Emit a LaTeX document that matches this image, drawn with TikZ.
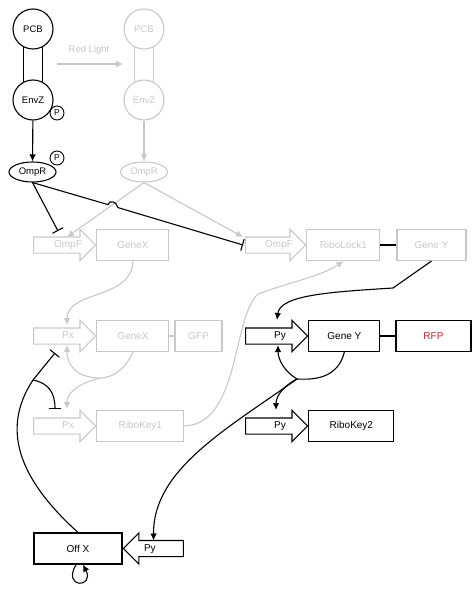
\documentclass[tikz,border=0pt]{standalone}
\usepackage{fontspec}
\setmainfont{Liberation Sans}
\usepackage{tikz}
\usetikzlibrary{arrows.meta,positioning,shapes.geometric,shapes.arrows}
\definecolor{faint}{RGB}{200,200,200}
\definecolor{rfpred}{RGB}{196,40,48}
\def\boxfont{\fontsize{10}{11}\selectfont}
\def\molfont{\fontsize{9.5}{10}\selectfont}
\newcommand{\fwd}[2][47pt]{\makebox[#1]{\hspace{15pt}#2}}
\newcommand{\bwd}[2][45pt]{\makebox[#1]{#2\hspace{15pt}}}

\begin{document}
\begin{tikzpicture}[x=1pt,y=-1pt,line width=1.1pt,
    mol/.style={draw,circle,minimum size=40pt,inner sep=0pt,font=\molfont},
    prot/.style={draw,ellipse,minimum width=47pt,minimum height=20pt,inner sep=0pt,font=\molfont},
    phos/.style={draw,circle,minimum size=14pt,inner sep=0pt,line width=0.9pt,font=\fontsize{8.5}{8}\selectfont},
    gene/.style={draw,rectangle,minimum height=31pt,inner sep=0pt,font=\boxfont},
    prom/.style={draw,single arrow,single arrow head extend=7.5pt,minimum height=62pt,
        text height=7pt,text depth=2pt,inner xsep=0pt,inner ysep=3pt,font=\boxfont},
    faded/.style={draw=faint,text=faint},
    act/.style={-{Latex[length=7pt,width=6.5pt]}},
    rep/.style={-{Bar[width=12pt]}}]
    \useasboundingbox (0,0) rectangle (472,599);

    \node[mol] (pcb) at (33,29) {PCB};
    \node[mol] (envz) at (33,100) {EnvZ};
    \node[phos] (pe) at (57,113) {P};
    \node[prot] (ompr) at (32.5,172) {OmpR};
    \node[phos] (po) at (57,158) {P};
    \draw (pcb.-118) -- (envz.118);
    \draw (pcb.-62) -- (envz.62);
    \draw[act] (envz) -- (ompr);

    \node[mol,faded] (gpcb) at (144,29) {PCB};
    \node[mol,faded] (genvz) at (144,100) {EnvZ};
    \node[prot,faded] (gompr) at (144,172) {OmpR};
    \draw[faint] (gpcb.-118) -- (genvz.118);
    \draw[faint] (gpcb.-62) -- (genvz.62);
    \draw[faint,act] (genvz) -- (gompr);

    \node[text=faint,font=\molfont] (light) at (89,50) {Red Light};
    \coordinate (l1) at (57,64);
    \coordinate (l2) at (123,64);
    \draw[faint,act] (l1) -- (l2);

    \node[prom,faded,anchor=tail] (pomp1) at (33,245) {\fwd{OmpF}};
    \node[gene,faded,minimum width=72pt,right=0pt of pomp1.tip] (gx1) {GeneX};
    \node[prom,faded,anchor=tail,minimum height=60pt] (pomp2) at (245,245) {\fwd[45pt]{OmpF}};
    \node[gene,faded,minimum width=73pt,right=0pt of pomp2.tip] (rlk) {RiboLock1};
    \node[gene,faded,minimum width=69pt,right=16pt of rlk] (gy1) {Gene Y};
    \draw (rlk) -- (gy1);

    \node[prom,faded,anchor=tail] (px1) at (33,336) {\fwd{Px}};
    \node[gene,faded,minimum width=72pt,right=0pt of px1.tip] (gx2) {GeneX};
    \node[gene,faded,minimum width=47pt,right=5pt of gx2] (gfp) {GFP};
    \draw[faint] (gx2) -- (gfp);
    \node[prom,anchor=tail] (py1) at (245,336) {\fwd{Py}};
    \node[gene,minimum width=71pt,right=0pt of py1.tip] (gy2) {Gene Y};
    \node[gene,minimum width=75pt,right=15pt of gy2,text=rfpred] (rfp) {RFP};
    \draw (gy2) -- (rfp);

    \node[prom,faded,anchor=tail] (px2) at (33,426) {\fwd{Px}};
    \node[gene,faded,minimum width=87pt,right=0pt of px2.tip] (rk1) {RiboKey1};
    \node[prom,anchor=tail] (py2) at (245,426) {\fwd{Py}};
    \node[gene,minimum width=85pt,right=0pt of py2.tip] (rk2) {RiboKey2};

    \node[gene,minimum width=88pt] (offx) at (78,548.5) {Off X};
    \node[prom,shape border rotate=180,minimum height=60pt,anchor=tip] (py3) at (offx.east) {\bwd{Py}};

    \draw[faint,act] (gompr.south) -- ([shift={(34,-8)}]pomp1.tail);
    \draw[faint,act] (gompr.south) -- ([shift={(-2,-8)}]pomp2.tail);
    \draw[rep] (ompr.south) -- ([shift={(25,-14)}]pomp1.tail);
    \draw[rep] (ompr.south) -- (108,204.6) .. controls (109,199.5) and (117,201.5) .. (118,207.6)
        -- ([xshift=-2pt]pomp2.tail);

    \draw[faint,act] (gx1.south) .. controls (132,300) and (67,290) .. ([shift={(34,-11)}]px1.tail);
    \coordinate (jx) at (100,378);
    \draw[faint] (gx2.south) .. controls (125,370) and (112,378) .. (jx);
    \draw[faint,act] (jx) .. controls (78,378) and (67,366) .. ([shift={(34,9)}]px1.tail);
    \draw[faint,act] (jx) .. controls (76,384) and (67,394) .. ([shift={(34,-17)}]px2.tail);
    \draw[faint,act] (rk1.east) .. controls (240,424) and (232,318) .. (258,294)
        .. controls (290,282) and (322,276) .. (rlk.south);

    \draw[act] (gy1.south) -- (393,288) .. controls (330,292) and (280,295) .. ([shift={(32,-16)}]py1.tail);
    \coordinate (jy) at (297,379);
    \draw (gy2.south) .. controls (338,378) and (315,380) .. (jy);
    \draw[act] (jy) .. controls (285,372) and (278,360) .. ([shift={(33,9)}]py1.tail);
    \draw[act] (jy) .. controls (285,385) and (276,395) .. ([shift={(31,-16)}]py2.tail);
    \draw[act] (jy) .. controls (225,430) and (153,470) .. ([shift={(31,-8)}]py3.tip);

    \coordinate (jo) at (33,380);
    \draw (offx.north) .. controls (20,480) and (0,430) .. (jo);
    \draw[rep] (jo) -- ([shift={(22,17)}]px1.tail);
    \draw[rep] (jo) .. controls (48,383) and (55,392) .. ([shift={(22,-17)}]px2.tail);
    \draw[act] ([xshift=-2pt]offx.south) .. controls (62,589) and (95,588) .. ([xshift=5pt]offx.south);
\end{tikzpicture}
\end{document}
